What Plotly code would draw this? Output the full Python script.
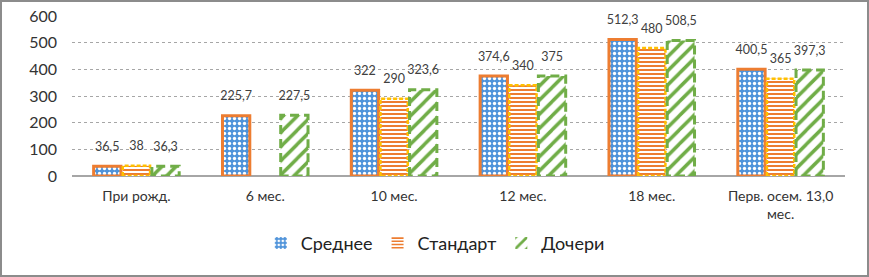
import plotly.graph_objects as go

categories = ["При рожд.", "6 мес.", "10 мес.", "12 мес.", "18 мес.", "Перв. осем. 13,0<br>мес."]
srednee = [36.5, 225.7, 322, 374.6, 512.3, 400.5]
standart = [38, None, 290, 340, 480, 365]
docheri = [36.3, 227.5, 323.6, 375, 508.5, 397.3]
y_ticks = [0, 100, 200, 300, 400, 500, 600]

W_PX, H_PX = 869, 277
ML, MR, MT, MB = 72, 24, 16, 101
PW, PH = W_PX - ML - MR, H_PX - MT - MB

FONT = "Lato"
BAR_W = 0.212
STEP = 0.226

series = [
    dict(name="Среднее", vals=srednee, shift=-STEP,
         pattern=dict(shape=".", bgcolor="#4F93DA", fgcolor="white", size=5, solidity=0.35, fillmode="replace"),
         line_color="#ED7D31", dash="solid", lw=3),
    dict(name="Стандарт", vals=standart, shift=0,
         pattern=dict(shape="-", bgcolor="white", fgcolor="#ED7D31", size=4, solidity=0.5, fillmode="replace"),
         line_color="#FFC000", dash="4px,2px", lw=2.5),
    dict(name="Дочери", vals=docheri, shift=STEP,
         pattern=dict(shape="/", bgcolor="white", fgcolor="#70AD47", size=10, solidity=0.35, fillmode="replace"),
         line_color="#70AD47", dash="9px,5px", lw=3),
]

def fmt(v):
    if v is None:
        return ""
    return f"{v:g}".replace(".", ",")

fig = go.Figure()
xs = list(range(len(categories)))

# bars
for s in series:
    fig.add_trace(go.Bar(
        x=xs, y=s["vals"], name=s["name"],
        offset=s["shift"] - BAR_W / 2, width=BAR_W,
        marker=dict(color=s["pattern"]["bgcolor"], pattern=s["pattern"],
                    line=dict(width=0)),
        hoverinfo="skip",
    ))

# bar outlines (dashed / solid)
for s in series:
    ox, oy = [], []
    for i, v in enumerate(s["vals"]):
        if v is None:
            continue
        x0 = i + s["shift"] - BAR_W / 2
        x1 = i + s["shift"] + BAR_W / 2
        ox += [x0, x0, x1, x1, x0, None]
        oy += [0, v, v, 0, 0, None]
    fig.add_trace(go.Scatter(
        x=ox, y=oy, mode="lines", showlegend=False, hoverinfo="skip",
        line=dict(color=s["line_color"], width=s["lw"], dash=s["dash"]),
        cliponaxis=False,
    ))

# data labels
for s in series:
    lx = [i + s["shift"] for i, v in enumerate(s["vals"]) if v is not None]
    ly = [v for v in s["vals"] if v is not None]
    fig.add_trace(go.Scatter(
        x=lx, y=ly, mode="markers+text", showlegend=False, hoverinfo="skip",
        marker=dict(size=18, opacity=0),
        text=[fmt(v) for v in ly], textposition="top center",
        textfont=dict(family=FONT, size=12.5, color="#404040"),
        cliponaxis=False,
    ))

fig.update_layout(
    width=W_PX, height=H_PX,
    margin=dict(l=ML, r=MR, t=MT, b=MB, pad=0, autoexpand=False),
    paper_bgcolor="white", plot_bgcolor="white",
    barmode="overlay",
    font=dict(family=FONT, color="#333333"),
    showlegend=True,
    legend=dict(orientation="h", x=0.47, xanchor="center", y=-0.42, yanchor="middle",
                font=dict(family=FONT, size=18, color="#222222"),
                itemwidth=30, traceorder="normal"),
    xaxis=dict(range=[-0.5, 5.5], tickmode="array", tickvals=xs, ticktext=categories,
               showgrid=False, zeroline=False, showline=False, ticks="",
               ticklabelstandoff=10,
               tickfont=dict(family=FONT, size=14, color="#333333")),
    yaxis=dict(range=[0, 600], tickmode="array", tickvals=y_ticks,
               showgrid=True, gridcolor="#A6A6A6", griddash="dot", gridwidth=1,
               zeroline=True, zerolinecolor="#A6A6A6", zerolinewidth=1.5,
               showline=False, ticks="", ticklabelstandoff=14,
               tickfont=dict(family=FONT, size=16, color="#333333")),
    shapes=[dict(type="rect", xref="paper", yref="paper",
                 x0=-(ML - 1) / PW, x1=1 + (MR - 1) / PW,
                 y0=-(MB - 1) / PH, y1=1 + (MT - 1) / PH,
                 line=dict(color="#8C8C8C", width=2), fillcolor="rgba(0,0,0,0)", layer="above")],
)

fig.write_html("out.html", config={"displayModeBar": False},
               post_script="document.body.style.margin='0';document.body.style.overflow='hidden';")
